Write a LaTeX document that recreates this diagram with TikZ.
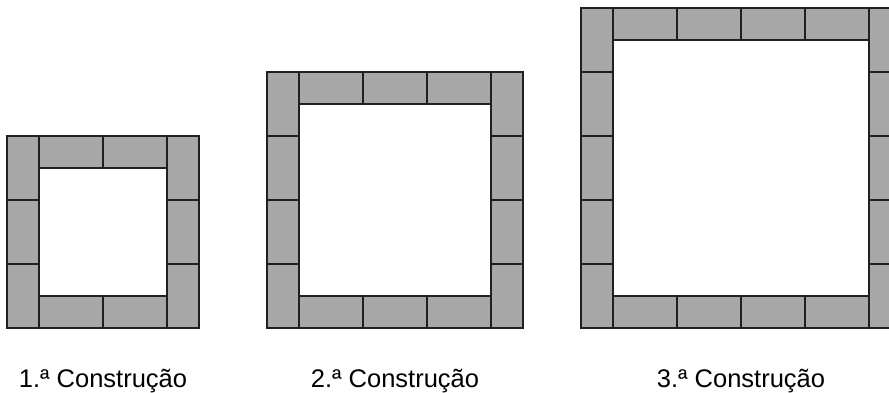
\documentclass[tikz,border=0pt]{standalone}
\usepackage{fontspec}
\setmainfont{Liberation Sans}
\definecolor{brickgray}{RGB}{168,168,168}
\definecolor{edgeblack}{RGB}{35,31,32}
\tikzset{
    brick/.style={fill=brickgray, draw=edgeblack, line width=1.2pt},
    caption/.style={anchor=base, inner sep=0pt, font=\fontsize{25.5}{30}\selectfont}
}

\begin{document}
\begin{tikzpicture}[x=1pt, y=1pt]
    % Fix the page to the size of the picture
    \clip (0,0) rectangle (889,392);

    % Brick sizes and common bottom line
    \def\brickw{32}
    \def\brickl{64}
    \def\ground{64}

    % Draw the three constructions: left edge / top-bottom bricks / side bricks
    \foreach \x/\h/\v in {7/2/3, 267/3/4, 581/4/5} {
        % side columns of standing bricks
        \foreach \j in {1,...,\v} {
            \draw[brick] (\x, {\ground+\brickl*(\j-1)}) rectangle ++(\brickw,\brickl);
            \draw[brick] (\x+\brickw+\brickl*\h, {\ground+\brickl*(\j-1)}) rectangle ++(\brickw,\brickl);
        }
        % top and bottom rows of lying bricks
        \foreach \i in {1,...,\h} {
            \draw[brick] ({\x+\brickw+\brickl*(\i-1)}, \ground) rectangle ++(\brickl,\brickw);
            \draw[brick] ({\x+\brickw+\brickl*(\i-1)}, \ground+\brickl*\v-\brickw) rectangle ++(\brickl,\brickw);
        }
    }

    % Captions under each construction
    \node[caption] (first) at (103,5) {1.ª Construção};
    \node[caption] (second) at (395,5) {2.ª Construção};
    \node[caption] (third) at (741,5) {3.ª Construção};
\end{tikzpicture}
\end{document}
